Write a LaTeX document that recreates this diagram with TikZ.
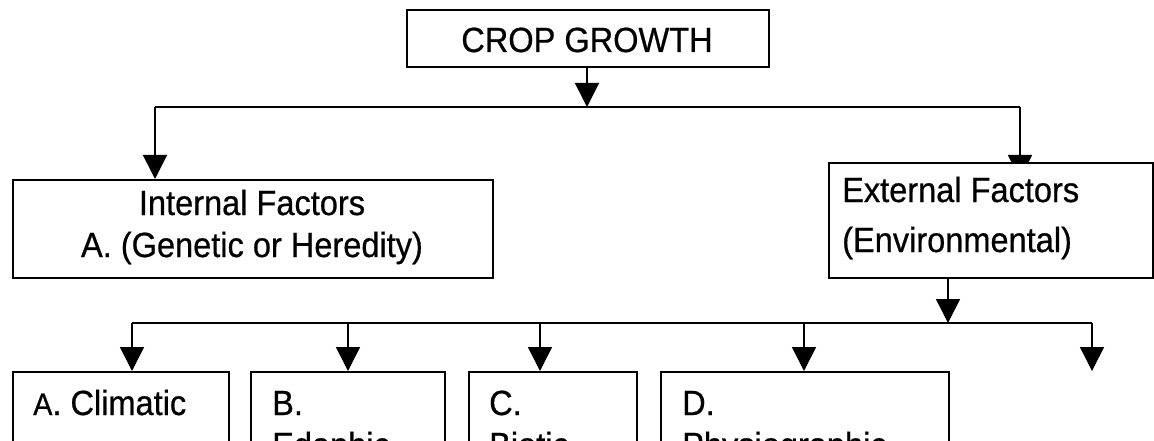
\documentclass[tikz,border=0pt]{standalone}
\usepackage{fontspec}
\setmainfont[FakeBold=0.6,FakeStretch=0.93]{Liberation Sans}
\usetikzlibrary{arrows.meta}
\pgfdeclarelayer{bg}
\pgfsetlayers{bg,main}
\tikzset{
  box/.style={draw, line width=1.6pt, fill=white, rectangle, inner sep=0pt, anchor=north west},
  lbl/.style={inner sep=0pt, font=\fontsize{35}{42}\selectfont},
  conn/.style={line width=1.6pt},
  arr/.style={conn, -{Triangle[length=24pt,width=24pt]}},
}
\begin{document}
\begin{tikzpicture}[x=1pt,y=-1pt]
\clip (0,0) rectangle (1154,441);

% boxes
\node[box, minimum width=362pt, minimum height=57pt] (top) at (406,9) {};
\node[box, minimum width=480pt, minimum height=98pt] (int) at (12,179) {};
\node[box, minimum width=324pt, minimum height=115pt] (ext) at (828,162) {};
\node[box, minimum width=216pt, minimum height=110pt] (bA) at (12,371) {};
\node[box, minimum width=194pt, minimum height=110pt] (bB) at (250,371) {};
\node[box, minimum width=168pt, minimum height=110pt] (bC) at (468,371) {};
\node[box, minimum width=288pt, minimum height=110pt] (bD) at (660,371) {};

% texts
\node[lbl, anchor=base] (tTop) at (587,52) {CROP GROWTH};
\node[lbl, anchor=base] (tInt1) at (252,215) {Internal Factors};
\node[lbl, anchor=base] (tInt2) at (252,257) {A. (Genetic or Heredity)};
\node[lbl, anchor=base west] (tExt1) at (842,202) {External Factors};
\node[lbl, anchor=base west] (tExt2) at (842,252) {(Environmental)};
\node[lbl, anchor=base west] (tA) at (33,415) {{\fontsize{31}{36}\selectfont A}. Climatic};
\node[lbl, anchor=base west] (tB1) at (272,415) {B.};
\node[lbl, anchor=base west] (tB2) at (272,457) {Edaphic};
\node[lbl, anchor=base west] (tC1) at (489,415) {C.};
\node[lbl, anchor=base west] (tC2) at (489,457) {Biotic};
\node[lbl, anchor=base west] (tD1) at (682,415) {D.};
\node[lbl, anchor=base west] (tD2) at (682,457) {Physiographic};

% junction coordinates
\coordinate (j0) at (587,107);
\coordinate (jL) at (155,107);
\coordinate (jR) at (1020,107);
\coordinate (k0) at (948,323);
\coordinate (kA) at (132,323);
\coordinate (kB) at (348,323);
\coordinate (kC) at (540,323);
\coordinate (kD) at (804,323);
\coordinate (kE) at (1092,323);

\begin{pgfonlayer}{bg}
\fill[white] (0,0) rectangle (1154,441);
\draw[arr] (j0 |- top.south) -- (j0);
\draw[conn] (jL) -- (jR);
\draw[arr] (jL) -- (jL |- int.north);
\draw[arr] (jR) -- (jR |- int.north);
\draw[arr] (k0 |- ext.south) -- (k0);
\draw[conn] (kA) -- (kE);
\draw[arr] (kA) -- (kA |- bA.north);
\draw[arr] (kB) -- (kB |- bB.north);
\draw[arr] (kC) -- (kC |- bC.north);
\draw[arr] (kD) -- (kD |- bD.north);
\draw[arr] (kE) -- (kE |- bD.north);
\end{pgfonlayer}
\end{tikzpicture}
\end{document}
